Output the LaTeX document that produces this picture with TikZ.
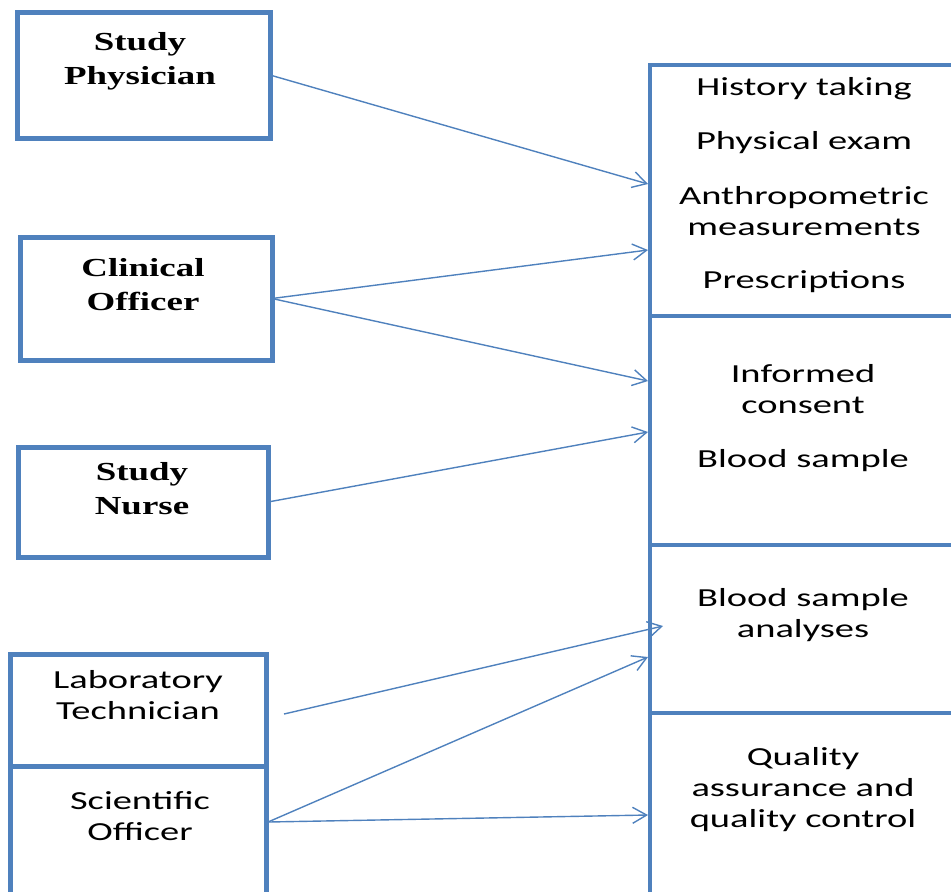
\documentclass[tikz,border=0pt]{standalone}
\usepackage{fontspec}
\usepackage{tikz}
\usetikzlibrary{arrows.meta}

\newfontfamily\roleserif[FakeStretch=1.42]{Liberation Serif}
\newfontfamily\rolecalib[FakeStretch=1.48]{Carlito}
\definecolor{boxblue}{RGB}{79,129,189}

\begin{document}
\begin{tikzpicture}[x=0.5pt,y=-0.5pt,
    rolebox/.style={draw=boxblue,line width=2.5pt,rectangle,inner sep=0pt,outer sep=0pt},
    taskbox/.style={draw=boxblue,line width=2.2pt,rectangle,inner sep=0pt,outer sep=0pt,minimum width=175pt},
    roletext/.style={align=center,font=\roleserif\bfseries\fontsize{13}{17}\selectfont},
    labtext/.style={align=center,font=\rolecalib\fontsize{13}{15.5}\selectfont},
    tasktext/.style={align=center,font=\rolecalib\fontsize{13}{15.5}\selectfont},
    arr/.style={draw=boxblue,line width=0.7pt,-{Straight Barb[length=7pt,width=8pt]}}]

\useasboundingbox (0,0) rectangle (951,891);

% staff
\node[rolebox,minimum width=126.5pt,minimum height=63pt] (phys) at (143.5,75) {};
\node[rolebox,minimum width=126pt,minimum height=61.5pt] (clin) at (146,298.5) {};
\node[rolebox,minimum width=125pt,minimum height=55pt] (nurse) at (143,502) {};
\node[rolebox,minimum width=128pt,minimum height=56pt] (lab) at (138,710) {};
\node[rolebox,minimum width=128pt,minimum height=67pt] (sci) at (138,833) {};

\node[roletext] (physT) at (140,61.5) {Study\\Physician};
\node[roletext] (clinT) at (143,285) {Clinical\\Officer};
\node[roletext] (nurseT) at (142,488.5) {Study\\Nurse};
\node[labtext] (labT) at (138,695.5) {Laboratory\\Technician};
\node[labtext] (sciT) at (140,816.5) {Scientific\\Officer};

% tasks
\node[taskbox,minimum height=125.5pt] (hist) at (825,190.5) {};
\node[taskbox,minimum height=114.5pt] (cons) at (825,430.5) {};
\node[taskbox,minimum height=84pt] (anal) at (825,629) {};
\node[taskbox,minimum height=93.5pt] (qual) at (825,806.5) {};

\node[tasktext] (histT) at (804,185) {History taking\\[11.5pt]Physical exam\\[12pt]Anthropometric\\measurements\\[11pt]Prescriptions};
\node[tasktext] (consT) at (803,418.5) {Informed\\consent\\[11.5pt]Blood sample};
\node[tasktext] (analT) at (803,615.5) {Blood sample\\analyses};
\node[tasktext] (qualT) at (803,790) {Quality\\assurance and\\quality control};

% arrow ends
\coordinate (t1) at (648,184);
\coordinate (t2) at (648,250);
\coordinate (t3) at (648,381);
\coordinate (t4) at (648,432);
\coordinate (t5) at (663,626);
\coordinate (t6) at (648,657);
\coordinate (t7) at (648,815);
\coordinate (s5) at (284,714);
\coordinate (s6) at (268,822);

\draw[arr] (phys.east) -- (t1);
\draw[arr] (clin.east) -- (t2);
\draw[arr] (clin.east) -- (t3);
\draw[arr] (nurse.east) -- (t4);
\draw[arr] (s5) -- (t5);
\draw[arr] (s6) -- (t6);
\draw[arr] (s6) -- (t7);

\end{tikzpicture}
\end{document}
